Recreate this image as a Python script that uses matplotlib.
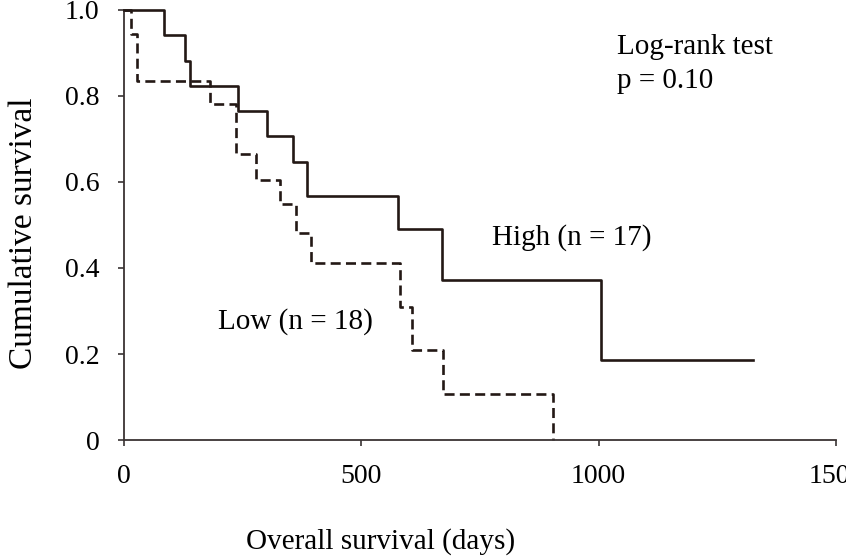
import matplotlib
matplotlib.use("Agg")
import matplotlib.pyplot as plt

plt.rcParams['font.family'] = ['Liberation Serif', 'DejaVu Serif']

# Data
high_t = [0, 84, 129, 139, 241, 302, 357, 386, 578, 669, 1004, 1325]
high_s = [1.0, 0.941, 0.882, 0.824, 0.765, 0.706, 0.647, 0.568, 0.491, 0.372, 0.186, 0.186]
low_t = [0, 14, 27, 181, 236, 279, 329, 362, 395, 582, 607, 671, 903]
low_s = [1.0, 0.944, 0.835, 0.782, 0.665, 0.605, 0.548, 0.481, 0.412, 0.309, 0.21, 0.106, 0.0]
x_ticks = [0, 500, 1000, 1500]
y_ticks = [0, 0.2, 0.4, 0.6, 0.8, 1.0]
y_tick_labels = ["0", "0.2", "0.4", "0.6", "0.8", "1.0"]

W, H = 846, 559
fig = plt.figure(figsize=(W / 100, H / 100), dpi=100)
ax = fig.add_axes([124 / W, (H - 440) / H, (836 - 124) / W, 430 / H])

col = '#231815'
ax.step(high_t, high_s, where='post', color=col, lw=1.9, clip_on=False, zorder=3)
ax.step(low_t, low_s, where='post', color=col, lw=1.9, linestyle=(0, (3.8, 2.0)),
        clip_on=False, zorder=2)

ax.set_xlim(0, 1500)
ax.set_ylim(0, 1.0)
for s in ['top', 'right']:
    ax.spines[s].set_visible(False)
for s in ['left', 'bottom']:
    ax.spines[s].set_color('#3a3333')
    ax.spines[s].set_linewidth(1.3)

ax.set_xticks(x_ticks)
ax.set_xticklabels([str(v) for v in x_ticks])
ax.set_yticks(y_ticks)
ax.set_yticklabels(y_tick_labels)
ax.tick_params(axis='both', direction='out', length=4.5, width=1.2, color='#3a3333',
               labelsize=20, labelcolor='black')
ax.tick_params(axis='x', pad=13)
ax.tick_params(axis='y', pad=13)

ax.text(1039, 0.915, "Log-rank test", fontsize=21, ha='left', va='center')
ax.text(1039, 0.836, "p = 0.10", fontsize=21, ha='left', va='center')
ax.text(775, 0.470, "High (n = 17)", fontsize=21, ha='left', va='center')
ax.text(198, 0.275, "Low (n = 18)", fontsize=21, ha='left', va='center')

fig.text(381 / W, 1 - 542 / H, "Overall survival (days)", fontsize=21, ha='center', va='center')
fig.text(24 / W, 1 - 233 / H, "Cumulative survival", fontsize=24, ha='center', va='center',
         rotation=90)

fig.savefig("out.png", dpi=100)
